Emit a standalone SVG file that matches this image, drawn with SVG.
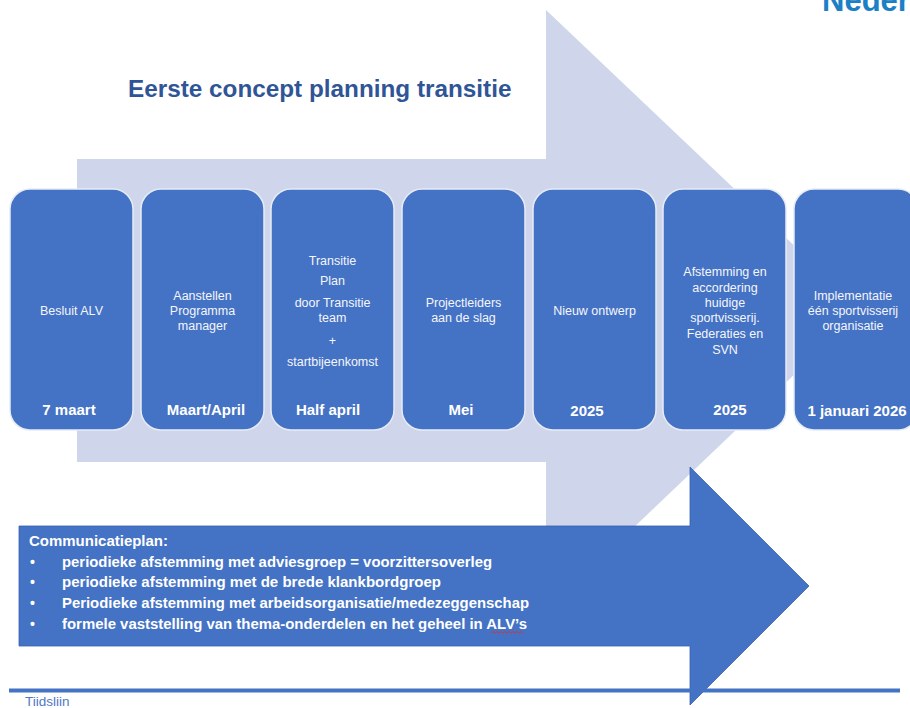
<svg xmlns="http://www.w3.org/2000/svg" width="910" height="708" viewBox="0 0 910 708">
<style>
.box{fill:#4472C4;stroke:#E6EBF5;stroke-width:1.5}
.lbl{font-family:"Liberation Sans",Arial,sans-serif;font-size:12.5px;fill:#F4F6FB;text-anchor:middle}
.date{font-family:"Liberation Sans",Arial,sans-serif;font-size:15px;font-weight:bold;fill:#FFFFFF;text-anchor:middle}
.com{font-family:"Liberation Sans",Arial,sans-serif;font-size:14px;font-weight:bold;fill:#FFFFFF}
</style>
<rect x="0" y="0" width="910" height="708" fill="#FFFFFF"/>
<g id="background">
<polygon points="77,159 546,159 546,10 862,310 546,611 546,462 77,462" fill="#CFD5EA"/>
<text x="822" y="11" font-family="'Liberation Sans',Arial,sans-serif" font-size="31" font-weight="bold" fill="#1B80C4">Neder</text>
<text x="128" y="97" font-family="'Liberation Sans',Arial,sans-serif" font-size="24.3" font-weight="bold" fill="#2F5597">Eerste concept planning transitie</text>
</g>
<g id="node1">
<rect class="box" x="10" y="189" width="123" height="241" rx="20"/>
<text class="lbl" x="71.5" y="314.5">Besluit ALV</text>
<text class="date" x="69" y="415">7 maart</text>
</g>
<g id="node2">
<rect class="box" x="141" y="189" width="123" height="241" rx="20"/>
<text class="lbl" x="202.5" y="299.5">Aanstellen</text>
<text class="lbl" x="202.5" y="314.5">Programma</text>
<text class="lbl" x="202.5" y="330">manager</text>
<text class="date" x="206" y="415">Maart/April</text>
</g>
<g id="node3">
<rect class="box" x="271" y="189" width="123" height="241" rx="20"/>
<text class="lbl" x="332.5" y="264.5">Transitie</text>
<text class="lbl" x="332.5" y="284.5">Plan</text>
<text class="lbl" x="332.5" y="307">door Transitie</text>
<text class="lbl" x="332.5" y="322">team</text>
<text class="lbl" x="332.5" y="345">+</text>
<text class="lbl" x="332.5" y="366">startbijeenkomst</text>
<text class="date" x="328" y="415">Half april</text>
</g>
<g id="node4">
<rect class="box" x="402" y="189" width="123" height="241" rx="20"/>
<text class="lbl" x="463.5" y="307">Projectleiders</text>
<text class="lbl" x="463.5" y="322">aan de slag</text>
<text class="date" x="461" y="415">Mei</text>
</g>
<g id="node5">
<rect class="box" x="533" y="189" width="123" height="241" rx="20"/>
<text class="lbl" x="594.5" y="314.5">Nieuw ontwerp</text>
<text class="date" x="587" y="416">2025</text>
</g>
<g id="node6">
<rect class="box" x="663" y="189" width="123" height="241" rx="20"/>
<text class="lbl" x="725" y="276">Afstemming en</text>
<text class="lbl" x="725" y="291.5">accordering</text>
<text class="lbl" x="725" y="307">huidige</text>
<text class="lbl" x="725" y="322">sportvisserij.</text>
<text class="lbl" x="725" y="338">Federaties en</text>
<text class="lbl" x="725" y="354">SVN</text>
<text class="date" x="730" y="415">2025</text>
</g>
<g id="node7">
<rect class="box" x="794" y="189" width="124" height="241" rx="20"/>
<text class="lbl" x="853" y="299.5">Implementatie</text>
<text class="lbl" x="853" y="314.5">één  sportvisserij</text>
<text class="lbl" x="853" y="330">organisatie</text>
<text class="date" x="857" y="416">1 januari 2026</text>
</g>
<g id="communicatieplan">
<polygon points="19,526 690,526 690,467 809,586 690,705 690,646 19,646" fill="#4472C4" stroke="#3561B0" stroke-width="0.8"/>
<text class="com" x="29" y="546" textLength="139" lengthAdjust="spacingAndGlyphs">Communicatieplan:</text>
<text class="com" x="30" y="567">•</text>
<text class="com" x="62" y="567" textLength="430" lengthAdjust="spacingAndGlyphs">periodieke afstemming met adviesgroep = voorzittersoverleg</text>
<text class="com" x="30" y="587">•</text>
<text class="com" x="62" y="587" textLength="379" lengthAdjust="spacingAndGlyphs">periodieke afstemming met de brede klankbordgroep</text>
<text class="com" x="30" y="608">•</text>
<text class="com" x="62" y="608" textLength="467" lengthAdjust="spacingAndGlyphs">Periodieke afstemming met arbeidsorganisatie/medezeggenschap</text>
<text class="com" x="30" y="629">•</text>
<text class="com" x="62" y="629" textLength="465" lengthAdjust="spacingAndGlyphs">formele vaststelling van thema-onderdelen en het geheel in ALV’s</text>
<path d="M491,633 l2,-1.5 l2,1.5 l2,-1.5 l2,1.5 l2,-1.5 l2,1.5 l2,-1.5 l2,1.5 l2,-1.5 l2,1.5 l2,-1.5 l2,1.5 l2,-1.5 l2,1.5 l2,-1.5 l2,1.5" fill="none" stroke="#E03030" stroke-width="0.9"/>
</g>
<g id="tijdslijn">
<line x1="9" y1="690.5" x2="900" y2="690.5" stroke="#4472C4" stroke-width="4"/>
<text x="25" y="706" font-family="'Liberation Sans',Arial,sans-serif" font-size="13.5" fill="#4F79C6">Tiidsliin</text>
</g>
</svg>
